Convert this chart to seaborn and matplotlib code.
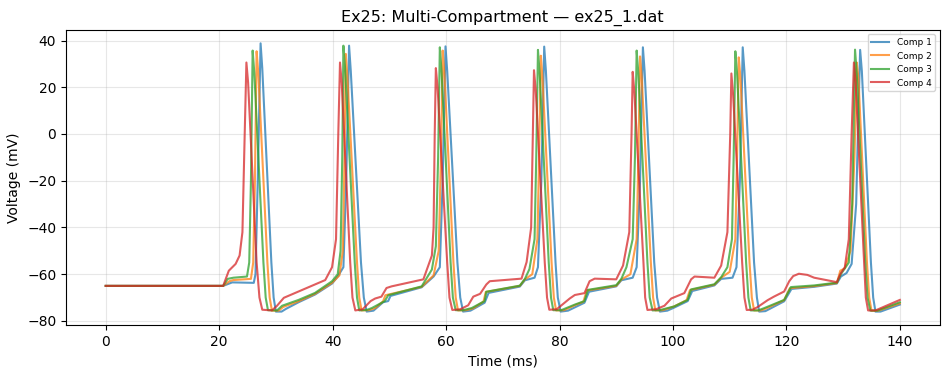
import matplotlib
matplotlib.use("Agg")
import matplotlib.pyplot as plt
import seaborn as sns
import pandas as pd

labels = ["Comp 1", "Comp 2", "Comp 3", "Comp 4"]

t_comp1 = [0, 20.7, 22.3, 26.1, 26.4, 26.8, 27.3, 27.6, 29.2, 29.6, 30.0, 31.0, 31.8, 34.0, 36.9, 39.9, 40.9,
           41.9, 42.4, 42.9, 43.2, 45.0, 45.5, 46.0, 47.2, 48.9, 49.8, 50.2, 55.7, 57.8, 58.9, 59.4, 59.9, 60.2,
           62.0, 62.5, 63.0, 64.3, 66.8, 67.5, 73.0, 73.9, 75.6, 76.2, 76.8, 77.3, 77.6, 79.3, 79.7, 80.2, 81.5,
           84.4, 85.2, 90.0, 90.9, 92.9, 93.6, 94.2, 94.7, 95.0, 96.7, 97.2, 97.7, 99.0, 100.2, 102.6, 103.4,
           107.3, 108.5, 110.5, 111.2, 111.8, 112.3, 112.6, 114.3, 114.8, 115.2, 116.3, 119.6, 120.9, 124.9,
           128.9, 129.6, 130.6, 131.5, 132.3, 132.6, 133.0, 133.3, 134.9, 135.3, 135.7, 136.6, 140.0]
v_comp1 = [-65, -65, -63.5, -63.7, -60, -20, 38.8, 28, -55, -70, -76, -76, -74.8, -72, -68.7, -64, -61,
           -57, -20, 37.8, 27, -55, -70, -76, -75.6, -72, -71.5, -69.3, -65.6, -61, -57, -20, 37.5, 27,
           -55, -70, -76, -75.6, -72.2, -68, -65.3, -62.6, -61.5, -57, -20, 37.4, 27, -55, -70, -76, -75.6,
           -72.2, -67.5, -65.2, -62.6, -61.5, -57, -20, 37.1, 27, -55, -70, -76, -75.6, -74.3, -71.5, -67.2,
           -64.8, -62, -61.5, -57, -20, 37.1, 27, -55, -70, -76, -75.8, -71.6, -66.3, -65.4,
           -64, -61, -59.5, -55.6, -30, 0, 36, 27, -55, -70, -76, -76, -73]

t_comp2 = [0, 20.7, 21.8, 22.5, 25.6, 26.0, 26.3, 26.6, 26.9, 28.5, 28.9, 29.3, 30.5, 31.3, 34.0, 36.9, 39.9,
           41.2, 41.8, 42.1, 42.3, 42.6, 44.3, 44.7, 45.1, 46.4, 47.5, 48.9, 49.3, 55.7, 57.8, 58.7, 59.1, 59.4,
           59.7, 61.3, 61.7, 62.1, 63.5, 64.8, 66.6, 67.0, 73.0, 73.9, 75.2, 76.1, 76.4, 76.7, 77.0, 78.6, 79.0,
           79.4, 80.8, 82.7, 84.2, 84.8, 90.0, 90.9, 92.5, 93.6, 93.9, 94.2, 94.5, 96.1, 96.5, 96.9, 98.2, 100.2,
           102.4, 103.0, 107.3, 108.5, 110.0, 111.0, 111.3, 111.6, 111.9, 113.5, 113.9, 114.3, 115.5, 116.5,
           119.6, 120.6, 124.9, 128.9, 129.5, 130.3, 131.3, 132.0, 132.4, 132.7, 134.2, 134.6, 135.0, 136.2, 140.0]
v_comp2 = [-65, -65, -63, -62.5, -62, -55, -20, 35.4, 26, -55, -70, -75.6, -75.6, -74, -71.6, -68.4, -63.7,
           -60.5, -50, -10, 34.3, 25, -55, -70, -75.5, -75.4, -74.5, -71.6, -69, -65.4, -60.5, -50, -10, 35.7,
           26, -55, -70, -75.5, -75.4, -74.6, -71.7, -67.6, -65, -62.2, -60, -45, -10, 33.5, 24, -55, -70,
           -75.5, -75.4, -73.3, -71.8, -67, -65, -62.3, -60, -45, -10, 33.2, 24, -55, -70, -75.5, -75.4, -73.8,
           -71.1, -66.8, -64.5, -61.5, -59, -45, -10, 32.8, 24, -55, -70, -75.5, -75.5, -74.6,
           -71.1, -66, -65.1, -63.8, -58.5, -57.5, -50, -10, 30.6, 24, -55, -70, -75.6, -75.6, -72.5]

t_comp3 = [0, 20.7, 21.5, 22.5, 24.9, 25.3, 25.6, 25.9, 26.2, 27.8, 28.2, 28.6, 30.2, 31.1, 34.0, 36.9, 39.9,
           40.9, 41.4, 41.7, 41.9, 42.2, 43.9, 44.3, 44.7, 46.0, 46.9, 49.2, 49.8, 55.7, 57.5, 58.2, 58.6, 58.9,
           59.2, 60.8, 61.2, 61.7, 63.0, 64.5, 66.8, 67.1, 73.0, 73.9, 74.7, 75.6, 75.9, 76.2, 76.5, 78.1, 78.5,
           78.9, 80.3, 82.7, 84.4, 85.0, 90.0, 90.9, 91.8, 92.9, 93.3, 93.6, 93.9, 95.5, 95.9, 96.4, 97.6, 100.2,
           102.6, 103.2, 107.3, 108.5, 109.6, 110.4, 110.7, 111.0, 111.3, 112.9, 113.3, 113.7, 115.0, 116.1,
           119.6, 120.8, 124.9, 128.9, 129.6, 131.0, 131.6, 131.9, 132.1, 132.4, 133.9, 134.3, 134.8, 136.0, 140.0]
v_comp3 = [-65, -65, -62, -61.5, -61, -55, -20, 35.7, 26, -55, -70, -75.4, -75.5, -73.5, -71, -68, -63,
           -60, -50, -10, 37.8, 28, -55, -70, -75.5, -75.3, -74.5, -71.5, -69, -65.2, -58, -48, -10, 37.1,
           27, -55, -70, -75.4, -75.4, -74.5, -71.5, -67.5, -64.9, -62, -57.8, -45, -10, 36, 26, -55, -70,
           -75.4, -75.4, -73, -71.5, -66.7, -64.7, -62, -57, -45, -10, 35.7, 26, -55, -70, -75.5, -75.4, -73.8,
           -71, -66.5, -64.3, -61.3, -57, -45, -10, 35.4, 26, -55, -70, -75.5, -75.5, -74.5,
           -71, -65.5, -64.8, -63.6, -60, -55, -30, 10, 36.1, 26, -55, -70, -75.6, -75.6, -72]

t_comp4 = [0, 20.7, 21.7, 22.9, 23.6, 24.1, 24.5, 24.8, 25.1, 26.6, 27.1, 27.6, 29.3, 30.2, 31.4, 38.7, 39.9,
           40.6, 41.0, 41.3, 41.6, 43.1, 43.5, 44.0, 45.3, 46.7, 47.5, 48.6, 49.5, 50.4, 56.0, 57.5, 57.8, 58.0,
           58.2, 58.5, 60.2, 60.6, 61.1, 62.5, 63.9, 64.8, 66.0, 67.1, 67.7, 73.3, 74.2, 75.0, 75.3, 75.5, 75.8,
           77.4, 77.8, 78.2, 79.5, 80.5, 81.8, 82.7, 84.4, 85.3, 86.2, 90.0, 91.2, 92.3, 92.7, 92.9, 93.2, 94.8,
           95.1, 95.5, 97.0, 98.5, 99.7, 102.0, 103.2, 103.8, 107.3, 108.5, 109.6, 110.1, 110.3, 110.6, 112.2,
           112.6, 113.0, 114.0, 114.9, 116.7, 117.8, 119.6, 120.5, 121.2, 122.2, 123.7, 124.9, 128.9, 129.5,
           130.3, 131.0, 131.5, 131.9, 132.2, 133.7, 134.0, 134.4, 135.7, 140.0]
v_comp4 = [-65, -65, -58.5, -55.6, -52, -42, 0, 30.6, 22, -55, -70, -75.2, -75.5, -73.5, -70.1, -62.5, -57,
           -45, 0, 30.6, 22, -55, -70, -75.5, -75, -71.5, -70.4, -69.6, -65.9, -65.2, -62.2, -52, -40, 0,
           28.2, 20, -55, -70, -75.3, -75, -73.3, -69.6, -68.4, -64.4, -63, -61.9, -54.8, -40, 0, 27.3, 19,
           -55, -70, -75.2, -75, -73, -70.4, -68.9, -68.1, -63, -61.9, -62.2, -56.3, -42, 0, 26.6, 18, -55,
           -70, -75.3, -75, -73.5, -70.4, -68.1, -62.2, -61, -61.5, -56.3, -42, 0, 25.9, 17, -55,
           -70, -75.3, -75.2, -74.1, -71.1, -69.6, -67.4, -63, -60.8, -59.8, -60.3, -61.5, -63.4, -60,
           -57, -45, 0, 30.6, 22, -55, -70, -75.5, -75.5, -71]

times = [t_comp1, t_comp2, t_comp3, t_comp4]
volts = [v_comp1, v_comp2, v_comp3, v_comp4]
colors = ["#1f77b4", "#ff7f0e", "#2ca02c", "#d62728"]

fig, ax = plt.subplots(figsize=(9.5, 3.74), dpi=100)
for lab, t, v, c in zip(labels, times, volts, colors):
    df = pd.DataFrame({"Time (ms)": t, "Voltage (mV)": v})
    sns.lineplot(data=df, x="Time (ms)", y="Voltage (mV)", ax=ax, color=c, label=lab,
                 alpha=0.75, linewidth=1.5, estimator=None, sort=False)

ax.set_title("Ex25: Multi-Compartment \u2014 ex25_1.dat", fontsize=11.5)
ax.set_xlabel("Time (ms)")
ax.set_ylabel("Voltage (mV)")
ax.grid(True, alpha=0.3)
ax.legend(loc="upper right", fontsize=6.5)
fig.subplots_adjust(left=0.0695, right=0.989, top=0.92, bottom=0.131)
fig.savefig("out.png", dpi=100)
